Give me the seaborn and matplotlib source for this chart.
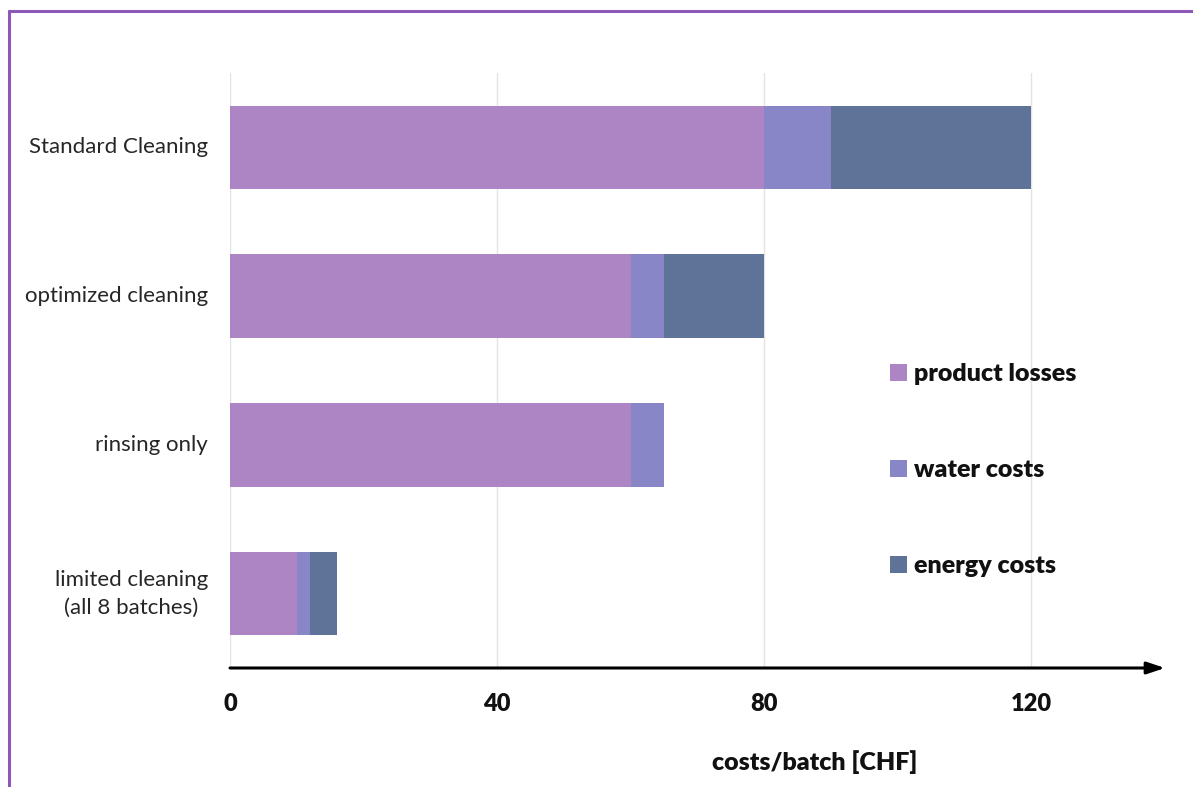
import matplotlib
matplotlib.use("Agg")
import matplotlib.pyplot as plt
from matplotlib.lines import Line2D
from matplotlib.patches import Patch
import numpy as np
import pandas as pd
import seaborn as sns

# Cleaning strategies and their cost components per batch (CHF)
categories = ["Standard Cleaning", "optimized cleaning", "rinsing only",
              "limited cleaning\n(all 8 batches)"]
product_losses = [80, 60, 60, 10]
water_costs = [10, 5, 5, 2]
energy_costs = [30, 15, 0, 4]
series_names = ["product losses", "water costs", "energy costs"]
colors = ["#ad84c4", "#8886c6", "#5f7399"]
x_ticks = [0, 40, 80, 120]

sns.set_theme(style="white")
plt.rcParams["font.family"] = ["Lato", "DejaVu Sans"]

fig = plt.figure(figsize=(11.93, 7.87), dpi=100)
ax = fig.add_axes([230 / 1193, 1 - 668 / 787, 935 / 1193, (668 - 73) / 787])

df = pd.DataFrame({
    "category": categories,
    "product": product_losses,
    "water": water_costs,
    "energy": energy_costs,
})
df["cum_product"] = df["product"]
df["cum_water"] = df["product"] + df["water"]
df["cum_energy"] = df["cum_water"] + df["energy"]

# Stacked bars: draw the longest cumulative layer first
for col, color in zip(["cum_energy", "cum_water", "cum_product"], colors[::-1]):
    sns.barplot(data=df, x=col, y="category", order=categories, color=color,
                width=0.56, orient="h", ax=ax, linewidth=0, saturation=1)

ax.set_xlim(0, 140)
ax.set_ylim(3.5, -0.5)
ax.set_xticks(x_ticks)
ax.set_xticklabels([str(t) for t in x_ticks], fontsize=17, fontweight="heavy",
                   color="#111111")
ax.tick_params(axis="x", length=0, pad=18)
ax.tick_params(axis="y", length=0, pad=16)
for lbl in ax.get_yticklabels():
    lbl.set_fontsize(16)
    lbl.set_color("#262626")
    lbl.set_multialignment("center")
    lbl.set_linespacing(1.5)
    lbl.set_verticalalignment("center")

ax.set_ylabel("")
ax.set_xlabel("costs/batch [CHF]", fontsize=18, fontweight="heavy", color="#111111")
ax.xaxis.set_label_coords((815 - 230) / 935, -(750 - 668) / 595)

ax.grid(axis="x", color="#e3e3e3", linewidth=1)
ax.set_axisbelow(True)
for side in ["top", "right", "left", "bottom"]:
    ax.spines[side].set_visible(False)

# Axis arrow along the bottom
ax.annotate("", xy=(1.0, 0), xytext=(0, 0), xycoords="axes fraction",
            arrowprops=dict(arrowstyle="-|>,head_length=0.9,head_width=0.3",
                            color="black", lw=2.2, shrinkA=0, shrinkB=0),
            annotation_clip=False)

handles = [Patch(facecolor=c, edgecolor="none") for c in colors]
leg = ax.legend(handles, series_names, loc="upper left",
                bbox_to_anchor=((880 - 230) / 935, (668 - 353) / 595),
                frameon=False, handlelength=0.68, handleheight=0.68,
                handletextpad=0.3, labelspacing=2.96, borderaxespad=0,
                prop={"weight": "heavy", "size": 18})
for t in leg.get_texts():
    t.set_color("#111111")

# Purple frame around the figure
fig.add_artist(Line2D([9 / 1193, 1.0], [1 - 11 / 787, 1 - 11 / 787],
                      transform=fig.transFigure, color="#8e58b8", lw=2.2))
fig.add_artist(Line2D([9 / 1193, 9 / 1193], [0, 1 - 11 / 787],
                      transform=fig.transFigure, color="#8e58b8", lw=2.2))

fig.savefig("out.png", dpi=100)
